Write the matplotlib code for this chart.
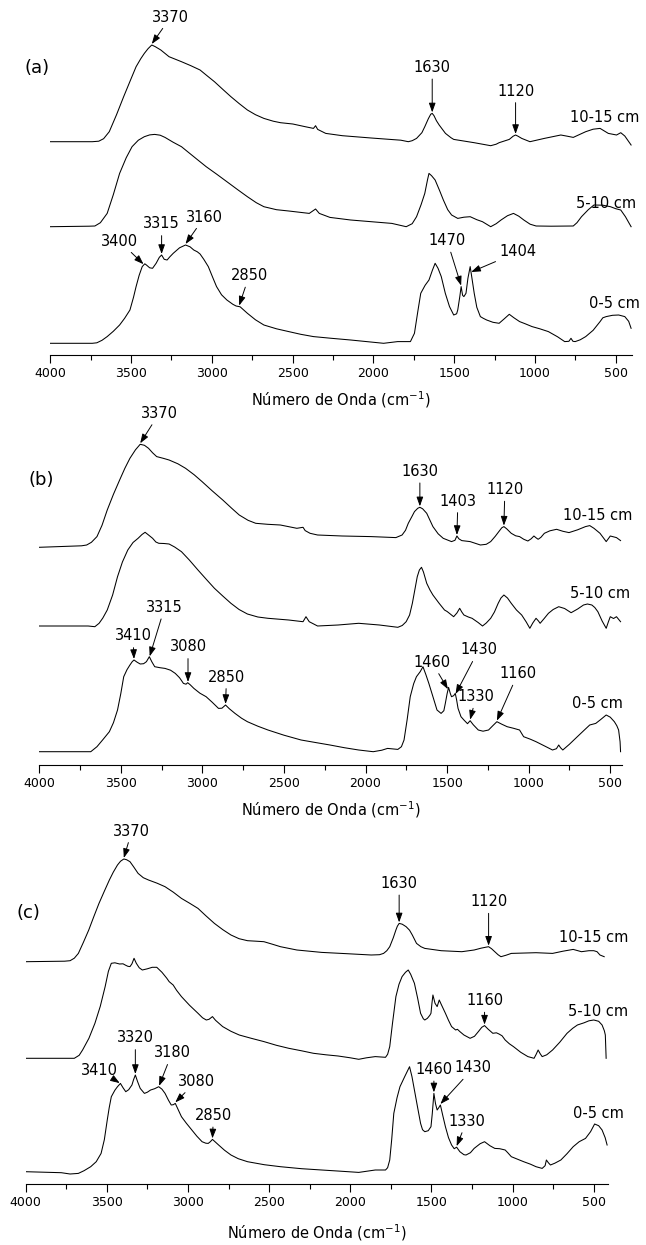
import numpy as np
import matplotlib
matplotlib.use('Agg')
import matplotlib.pyplot as plt
from matplotlib.ticker import MultipleLocator

plt.rcParams['font.family'] = ['DejaVu Sans']
plt.rcParams['mathtext.default'] = 'regular'

depths = ['10-15 cm', '5-10 cm', '0-5 cm']

# ---- (a) spectra: wavenumber (cm-1) / absorbance (a.u.) ----
a_top_wn = [4000, 3740, 3700, 3670, 3635, 3590, 3546, 3500, 3469, 3440, 3418, 3395, 3372, 3350,
            3316, 3265, 3188, 3130, 3073, 3030, 2984, 2930, 2882, 2830, 2780, 2730, 2678, 2620,
            2575, 2499, 2422, 2371, 2358, 2345, 2295, 2192, 2014, 1830, 1784, 1760, 1733, 1700,
            1682, 1660, 1645, 1636, 1625, 1610, 1593, 1554, 1520, 1503, 1376, 1274, 1240, 1222,
            1159, 1135, 1120, 1105, 1082, 1031, 942, 840, 800, 763, 686, 640, 597, 546, 495,
            469, 444, 405]
a_top = [0, 0, 0.5, 3, 10, 27, 45, 63, 75, 83, 88.3, 93, 96.7, 95,
         91.7, 85, 80, 76, 71.7, 66, 60, 52, 45, 38, 31.7, 27, 23.3, 20.5,
         19, 17.7, 15, 13.3, 16, 12.3, 8.3, 6, 3.7, 1.5, 0, 1, 3.3, 9,
         15, 23, 27.5, 28.3, 26, 21, 16.7, 8.3, 4, 2.3, -1, -4, -2.5, -1,
         2.3, 5.5, 6.7, 5.5, 3.3, 0, 3.3, 6.7, 5.5, 4.3, 10, 12.5, 13.3, 8.3, 6.7,
         9, 5.7, -3.3]

a_mid_wn = [4000, 3760, 3724, 3690, 3648, 3610, 3571, 3530, 3494, 3455, 3418, 3385, 3354, 3320,
            3290, 3240, 3188, 3137, 3085, 3035, 2970, 2907, 2840, 2780, 2725, 2678, 2600, 2524,
            2397, 2358, 2335, 2269, 2141, 1886, 1797, 1760, 1733, 1705, 1682, 1665, 1656, 1640,
            1618, 1590, 1567, 1540, 1516, 1478, 1440, 1401, 1360, 1325, 1274, 1240, 1210, 1170,
            1133, 1100, 1069, 1030, 993, 900, 763, 740, 712, 670, 635, 580, 533, 500, 469,
            440, 405]
a_mid = [0, 0.5, 0.7, 4, 13.3, 32, 53.3, 69, 80, 86.5, 90, 91.8, 92.3, 91.5,
         89.3, 84.5, 80, 73.3, 66.5, 60, 52.5, 45, 37, 30, 24, 20, 17, 15.7,
         13.3, 17.7, 13.3, 9.3, 6.7, 3.3, 0, 3, 10, 22, 33.3, 47, 53.3, 51,
         46.7, 36, 26.7, 17, 11.7, 8.3, 9.5, 10, 7, 5, 0, 3, 6.7, 11,
         13.3, 10.5, 6.7, 2.5, 0.7, 0.5, 0.7, 4, 10, 17, 21.7, 21.5, 20, 18, 16.7,
         10, 0]

a_bot_wn = [4000, 3740, 3712, 3680, 3648, 3610, 3571, 3540, 3507, 3485, 3469, 3450, 3431, 3415,
            3405, 3385, 3367, 3345, 3325, 3311, 3295, 3277, 3260, 3239, 3200, 3163, 3135, 3112,
            3090, 3073, 3050, 3022, 2995, 2971, 2940, 2907, 2870, 2850, 2825, 2780, 2730, 2678,
            2600, 2524, 2450, 2371, 2260, 2141, 1937, 1850, 1771, 1746, 1725, 1707, 1680, 1656,
            1635, 1618, 1600, 1580, 1555, 1529, 1503, 1485, 1478, 1465, 1457, 1448, 1440, 1427,
            1415, 1401, 1390, 1376, 1360, 1338, 1320, 1299, 1260, 1222, 1190, 1159, 1130, 1095,
            1060, 1018, 970, 917, 860, 816, 790, 777, 765, 751, 720, 686, 640, 597, 580, 559,
            520, 482, 444, 420, 405]
a_bot = [0, 0, 0.5, 3, 6.7, 12, 18.3, 25, 33.3, 46, 56.7, 68, 76.7, 79.5,
         78.3, 75.5, 75, 80, 86, 88.3, 84, 83.3, 86.5, 90, 95.5, 98.3, 96.5, 93.3,
         91.5, 89.3, 84, 76.7, 66, 56.7, 48.5, 43.3, 39, 37.3, 36.5, 30, 23.5, 18.3,
         14.5, 11.7, 9, 6.7, 5, 3.3, 0, 1.7, 1.7, 10, 32, 50, 58, 63.3,
         73, 80, 75, 66.7, 50, 36.7, 28.3, 29.5, 33.3, 47, 56.7, 48, 46.7, 50,
         65, 76.7, 65, 50, 36, 26.7, 25, 23.3, 21, 20, 24.5, 29, 25.5, 21.7,
         19.5, 16.7, 14.5, 11.7, 6.5, 1.7, 2, 5, 2, 1.7, 3.5, 6.7, 13, 21.7, 25.5, 26.7,
         28, 28.3, 26.7, 22, 15]

# ---- (b) spectra ----
b_top_wn = [4000, 3740, 3709, 3680, 3646, 3615, 3583, 3545, 3507, 3475, 3444, 3410, 3381, 3355,
            3330, 3305, 3280, 3240, 3204, 3150, 3103, 3050, 3002, 2940, 2875, 2820, 2774, 2720,
            2673, 2600, 2522, 2421, 2383, 2370, 2340, 2294, 2143, 1966, 1814, 1776, 1755, 1738,
            1715, 1700, 1680, 1667, 1650, 1625, 1605, 1587, 1555, 1524, 1473, 1452, 1440, 1428,
            1410, 1359, 1296, 1260, 1233, 1205, 1183, 1165, 1152, 1135, 1107, 1080, 1056, 1030,
            1005, 985, 968, 955, 942, 925, 904, 870, 829, 790, 753, 700, 652, 626, 600, 563,
            540, 525, 510, 500, 462, 437]
b_top = [0, 1.5, 2.3, 5, 10.7, 22, 37.3, 53, 67.3, 79, 89, 97.5, 103, 102,
         99, 94.5, 90.7, 89, 87.3, 83.5, 79, 72.5, 65.7, 56.5, 47.3, 39, 32.3, 27,
         24, 23, 22.3, 19, 20, 16.7, 14, 12.3, 11.3, 10.7, 9.7, 12.3, 17, 24,
         31, 35.7, 39, 40, 38.5, 34, 27, 20.7, 13.5, 9, 5.7, 7, 11.3, 8.5,
         6.7, 5.7, 2.3, 3, 5.7, 11, 15.7, 19.5, 20.7, 18.5, 14, 11.5, 10.7, 8,
         6.3, 8.5, 11.3, 9.5, 8, 10, 14, 16.5, 18, 16, 14.7, 17.5, 20.7, 21.7, 19, 14,
         9, 5.7, 9, 11.3, 9.7, 6.7]

b_mid_wn = [4000, 3700, 3659, 3633, 3610, 3583, 3550, 3520, 3490, 3457, 3425, 3394, 3370, 3351,
            3330, 3305, 3285, 3267, 3235, 3204, 3170, 3128, 3080, 3027, 2975, 2926, 2875, 2825,
            2775, 2724, 2660, 2598, 2471, 2383, 2365, 2345, 2294, 2168, 2042, 1915, 1802, 1775,
            1751, 1730, 1713, 1698, 1683, 1670, 1657, 1645, 1625, 1605, 1587, 1549, 1516, 1500,
            1486, 1460, 1440, 1423, 1410, 1397, 1370, 1347, 1310, 1283, 1260, 1233, 1210, 1187,
            1170, 1152, 1130, 1107, 1075, 1043, 1015, 993, 975, 955, 940, 930, 905, 879, 850,
            816, 780, 740, 700, 664, 640, 613, 595, 576, 550, 525, 512, 500, 480, 462, 437]
b_mid = [0, 0, -0.7, 2.7, 8, 16, 31, 49.3, 64, 76, 83.5, 87.7, 91.5, 93.7,
         91, 87.7, 84, 82.7, 82.5, 82, 79, 74.3, 66, 56, 46.5, 37.7, 30, 22.7,
         16.5, 12, 9, 7.7, 6, 4.3, 9.3, 4.3, 0, 1, 2.7, 1, -1.3, 0.5,
         4.3, 11, 22.7, 36, 49.3, 56, 58.7, 54, 42.7, 36, 31, 22.7, 16, 14.5,
         12.7, 9.3, 13, 17.7, 14, 11, 9, 7.7, 3.5, 0, 3, 7.7, 14, 22.7,
         28, 31, 28, 22.7, 16, 11, 4, -2.3, 3, 7.7, 5, 2.7, 7.5, 12.7, 16.5,
         19.3, 17.5, 13.3, 17, 21, 22, 21, 18.5, 14.3, 5, -2.3, 4, 9.3, 7.5, 9.3, 4.3]

b_bot_wn = [4000, 3700, 3684, 3665, 3646, 3610, 3570, 3545, 3520, 3500, 3482, 3462, 3444, 3430,
            3419, 3400, 3381, 3360, 3343, 3325, 3310, 3292, 3260, 3229, 3195, 3166, 3140, 3116,
            3100, 3090, 3075, 3052, 3015, 2977, 2940, 2901, 2880, 2858, 2835, 2800, 2760, 2724,
            2660, 2598, 2500, 2395, 2300, 2218, 2130, 2042, 1953, 1900, 1865, 1802, 1780, 1764,
            1745, 1726, 1705, 1688, 1665, 1648, 1630, 1612, 1585, 1562, 1537, 1520, 1511, 1500,
            1491, 1480, 1473, 1460, 1450, 1442, 1433, 1415, 1397, 1375, 1359, 1340, 1309, 1280,
            1246, 1220, 1195, 1165, 1132, 1095, 1056, 1031, 990, 955, 900, 854, 830, 816, 805,
            791, 750, 702, 660, 626, 589, 560, 525, 500, 475, 460, 449, 440, 437]
b_bot = [0, 0, 0, 2.5, 5, 12, 20, 29, 41.7, 58, 75, 82, 86.7, 90,
         91.7, 89.5, 87.7, 88, 90, 95, 90, 85, 84, 83.3, 81.5, 78.3, 74, 68.3,
         67.5, 69, 67, 63.3, 58.5, 55, 49.5, 43.3, 43.5, 46.7, 43, 38.3, 33.5, 30,
         25.5, 21.7, 16.5, 11.7, 9, 6.7, 4, 1.7, 0, 1.5, 3.3, 2.3, 5, 11.7,
         32, 55, 68, 75, 80, 85, 77, 68.3, 54, 41.7, 38.3, 41, 48.3, 58,
         64.3, 58, 55, 56, 58.3, 52, 43.3, 35, 31.7, 28, 31, 27, 21.7, 20.5,
         21.7, 26, 30, 27.5, 25, 23.5, 21.7, 15, 12.5, 10, 5.5, 1.7, 3, 6.7, 4,
         1.7, 7.5, 15, 21.5, 26.7, 28.3, 32, 36.7, 34.5, 30, 26, 21.7, 10, 0]

# ---- (c) spectra ----
c_top_wn = [4000, 3760, 3726, 3700, 3675, 3645, 3611, 3580, 3548, 3515, 3484, 3460, 3434, 3415,
            3395, 3378, 3357, 3335, 3307, 3275, 3243, 3190, 3141, 3090, 3040, 2990, 2938, 2890,
            2837, 2785, 2735, 2685, 2633, 2580, 2532, 2480, 2430, 2329, 2176, 2020, 1871, 1820,
            1795, 1775, 1757, 1735, 1719, 1710, 1699, 1680, 1656, 1635, 1618, 1592, 1565, 1541,
            1440, 1313, 1237, 1195, 1165, 1148, 1130, 1110, 1090, 1072, 1040, 1008, 856, 754,
            690, 627, 576, 530, 500, 480, 462, 436]
c_top = [0, 0.5, 1, 3.5, 8.3, 19, 31.7, 45, 58.3, 70.5, 81.7, 89.5, 96.7, 100.5,
         102.7, 102, 100, 95, 88.3, 84, 81.7, 78.5, 75, 69.5, 63.3, 58.5, 53.3, 46,
         38.3, 32, 26.7, 23, 21, 20.5, 20, 17.5, 15, 11.7, 9.3, 8, 6.7, 7,
         8.3, 11, 15, 24, 31.7, 35.5, 38.3, 37.5, 35, 31.5, 26.7, 18.3, 15, 13.3,
         11, 10, 11.7, 13.5, 14.5, 15, 13, 10, 7, 5, 6.5, 8.3, 9, 8.3,
         10.5, 12.3, 10, 11, 11, 10, 6.7, 5]

c_mid_wn = [4000, 3700, 3670, 3649, 3610, 3573, 3540, 3510, 3490, 3472, 3450, 3421, 3400, 3383,
            3370, 3357, 3345, 3332, 3318, 3300, 3281, 3250, 3220, 3192, 3160, 3130, 3116, 3100,
            3091, 3070, 3040, 2990, 2938, 2910, 2887, 2870, 2849, 2830, 2786, 2735, 2684, 2610,
            2532, 2455, 2379, 2300, 2227, 2150, 2075, 2000, 1948, 1900, 1846, 1783, 1770, 1757,
            1740, 1719, 1700, 1681, 1660, 1643, 1628, 1605, 1585, 1567, 1550, 1541, 1525, 1510,
            1503, 1497, 1491, 1478, 1465, 1452, 1440, 1414, 1395, 1376, 1351, 1340, 1325, 1300,
            1262, 1235, 1211, 1190, 1173, 1150, 1122, 1100, 1084, 1065, 1046, 1020, 995, 950,
            906, 868, 855, 843, 830, 818, 790, 754, 710, 665, 630, 601, 560, 530, 500, 470,
            449, 435, 429, 424]
c_mid = [0, 0, 3, 8.3, 20, 35, 52, 71.7, 87, 95, 95.5, 94.3, 94.5, 93,
         92, 91.7, 94.5, 100, 95, 90.5, 88.3, 89.5, 91, 91, 86, 80, 76.7, 74.5,
         73.3, 68, 61.7, 53, 45, 40.5, 38.3, 39, 41.7, 38, 31.7, 27, 23.3, 20,
         16.7, 13, 10, 7.5, 5, 3.5, 2.3, 0.5, -1, 0.5, 1.7, 1, 4, 11.7,
         35, 61.7, 74, 81.7, 86, 88.3, 84, 75, 60, 45, 39.5, 38.3, 40, 43,
         45, 55, 63.3, 55, 51.7, 58.3, 54, 45, 38, 31.7, 28.3, 29, 26.7, 23.3,
         20, 22, 26.7, 31, 32.7, 29, 25, 25.5, 24.3, 22.5, 18.3, 14.5, 11.7, 6,
         1.7, 0, 4, 8.3, 4.5, 1.7, 3.5, 8.3, 16, 25, 30, 33.3, 35.5, 37.5, 38.3, 37,
         33.3, 27.5, 23.3, 0]

c_bot_wn = [4000, 3780, 3726, 3675, 3640, 3599, 3565, 3535, 3515, 3497, 3485, 3472, 3450, 3434,
            3416, 3400, 3383, 3365, 3345, 3335, 3324, 3310, 3294, 3268, 3250, 3230, 3205, 3180,
            3160, 3141, 3120, 3103, 3090, 3078, 3060, 3040, 3010, 2976, 2945, 2913, 2890, 2875,
            2862, 2849, 2830, 2811, 2775, 2735, 2690, 2633, 2530, 2430, 2300, 2176, 2060, 1948,
            1846, 1783, 1770, 1757, 1745, 1732, 1712, 1694, 1665, 1650, 1635, 1620, 1605, 1585,
            1567, 1555, 1541, 1520, 1503, 1495, 1485, 1475, 1465, 1455, 1445, 1430, 1414, 1395,
            1376, 1360, 1345, 1325, 1300, 1287, 1260, 1237, 1200, 1173, 1140, 1110, 1080, 1046,
            1030, 1008, 970, 932, 890, 856, 818, 800, 792, 780, 767, 740, 703, 665, 627, 590,
            551, 520, 495, 470, 449, 430, 418]
c_bot = [0, -1, -2.3, -1.7, 1, 5, 10, 18.3, 32, 51.7, 64, 75, 81.5, 85,
         88.3, 84, 80, 82, 86.7, 92, 96.7, 90, 83.3, 78.3, 79.5, 81.7, 83, 85,
         82.5, 78.3, 71.5, 66.7, 67, 68.3, 62, 55, 48.5, 41.7, 35.5, 30, 28.5, 28.3,
         30, 32.3, 29.5, 26.7, 21.5, 16.7, 13, 10, 7, 5, 3, 1.7, 0.5, -0.7,
         1.7, 1.7, 4, 11.7, 32, 58.3, 74, 85, 95, 100, 105, 95, 81.7, 64,
         48.3, 42, 40, 41, 45, 58, 78.3, 68, 61.7, 64, 66.7, 56, 45, 34,
         26.7, 23, 24.5, 20, 17, 16.7, 19, 23.3, 28, 30, 26, 23.3, 23, 21.7,
         19, 15, 12.5, 10, 7.5, 5, 3.3, 6, 11.7, 9, 6.7, 8.5, 11.7, 18, 25, 30,
         33.3, 40, 47.7, 46, 41.7, 34, 26.7]

# band labels: text, trace (0 = 10-15, 1 = 5-10, 2 = 0-5), arrow tip wavenumber, text offset (px)
a_bands = [('3370', 0, 3372, 19, 27), ('1630', 0, 1636, 0, 45), ('1120', 0, 1120, 0, 43),
           ('3400', 2, 3423, -24, 23), ('3315', 2, 3311, 0, 30), ('3160', 2, 3163, 19, 27),
           ('2850', 2, 2831, 10, 30), ('1470', 2, 1457, -14, 45), ('1404', 2, 1395, 47, 20)]
b_bands = [('3370', 0, 3381, 19, 30), ('1630', 0, 1667, 0, 35), ('1403', 0, 1440, 1, 34),
           ('1120', 0, 1152, 1, 36), ('3315', 2, 3323, 15, 49), ('3410', 2, 3419, -1, 23),
           ('3080', 2, 3088, 0, 35), ('2850', 2, 2858, 1, 27), ('1460', 2, 1495, -16, 27),
           ('1430', 2, 1448, 23, 44), ('1330', 2, 1359, 6, 23), ('1160', 2, 1195, 21, 47)]
c_bands = [('3370', 0, 3395, 8, 27), ('1630', 0, 1699, 0, 39), ('1120', 0, 1148, 0, 44),
           ('1160', 1, 1173, 0, 24), ('3320', 2, 3324, 0, 36), ('3410', 2, 3420, -20, 13),
           ('3180', 2, 3178, 13, 33), ('3080', 2, 3078, 21, 21), ('2850', 2, 2849, 1, 23),
           ('1460', 2, 1485, 0, 23), ('1430', 2, 1445, 33, 36), ('1330', 2, 1345, 10, 25)]


def draw_panel(fig, rect, xmax, traces, offsets, bands, depth_pos, letter, letter_pos, labelpad):
    ax = fig.add_axes(rect)
    for (wn, y), off in zip(traces, offsets):
        ax.plot(wn, np.array(y) + off, color='k', lw=0.75)

    for text, i, tip, dx, dy in bands:
        wn, y = traces[i]
        ty = np.interp(tip, wn[::-1], y[::-1]) + offsets[i] + 1
        ax.annotate(text, xy=(tip, ty), xytext=(dx, dy), textcoords='offset pixels',
                    ha='center', va='center', fontsize=10.5, annotation_clip=False,
                    arrowprops=dict(arrowstyle='-|>,head_length=0.7,head_width=0.25',
                                    color='k', lw=0.7, shrinkA=1, shrinkB=0,
                                    mutation_scale=8))

    for lab, (x, y) in zip(depths, depth_pos):
        ax.text(x, y, lab, ha='center', va='center', fontsize=10.5)
    ax.text(letter_pos[0], letter_pos[1], letter, ha='center', va='center', fontsize=13)

    ax.set_xlim(4000, xmax)
    ax.set_ylim(0, 350)
    ax.xaxis.set_major_locator(MultipleLocator(500))
    ax.xaxis.set_minor_locator(MultipleLocator(250))
    ax.tick_params(axis='x', which='major', direction='out', length=6, width=0.8,
                   labelsize=9, pad=2.5)
    ax.tick_params(axis='x', which='minor', direction='out', length=3.5, width=0.8)
    ax.set_yticks([])
    for s in ['top', 'left', 'right']:
        ax.spines[s].set_visible(False)
    ax.spines['bottom'].set_linewidth(0.8)
    ax.set_xlabel('Número de Onda (cm$^{-1}$)', fontsize=10.5, labelpad=labelpad)
    ax.patch.set_alpha(0)
    return ax


W, H = 646, 1245
fig = plt.figure(figsize=(W / 100, H / 100), dpi=100)

draw_panel(fig, [50.3 / W, (H - 355) / H, 581.6 / W, 350 / H], 400,
           [(a_top_wn, a_top), (a_mid_wn, a_mid), (a_bot_wn, a_bot)], [213.3, 128.3, 11.7],
           a_bands, [(571, 238), (559, 152), (507, 52)], '(a)', (4082, 287), 7)
draw_panel(fig, [39.2 / W, (H - 765) / H, 582.5 / W, 350 / H], 430,
           [(b_top_wn, b_top), (b_mid_wn, b_mid), (b_bot_wn, b_bot)], [217.7, 139, 13.3],
           b_bands, [(576, 249), (563, 172), (576, 62)], '(b)', (3987, 285), 7)
draw_panel(fig, [25.6 / W, (H - 1184) / H, 582.0 / W, 350 / H], 415,
           [(c_top_wn, c_top), (c_mid_wn, c_mid), (c_bot_wn, c_bot)], [222.3, 125.7, 12.3],
           c_bands, [(500, 247), (474, 173), (474, 70)], '(c)', (3980, 271), 10)

fig.savefig('out.png', dpi=100)
